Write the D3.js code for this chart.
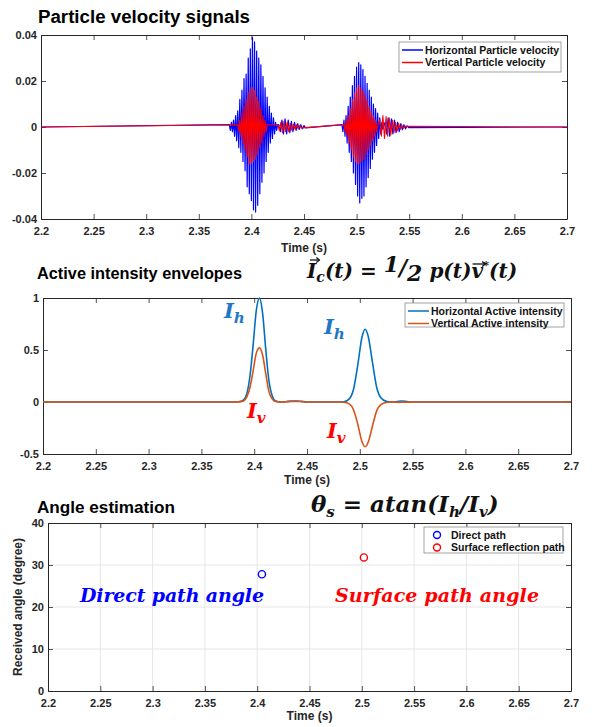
<!DOCTYPE html>
<html><head><meta charset="utf-8">
<script src="https://cdn.jsdelivr.net/npm/d3@7"></script>
<style>html,body{margin:0;padding:0;background:#fff}svg{display:block}</style>
</head><body>
<svg id="c" width="595" height="727"></svg>
<script>
// ---------------- DATA ----------------
const xTicks = [2.2,2.25,2.3,2.35,2.4,2.45,2.5,2.55,2.6,2.65,2.7];
const xTickLabels = ["2.2","2.25","2.3","2.35","2.4","2.45","2.5","2.55","2.6","2.65","2.7"];

// Panel 1: particle velocity (extrema)
const velStep = 0.001;
const hBurst1Start = 2.379;
const hBurst1 = [0.001,-0.0015,0.002,-0.002,0.003,-0.004,0.005,-0.006,0.007,-0.009,0.012,-0.011,0.016,-0.015,0.021,-0.019,0.023,-0.026,0.030,-0.029,0.034,-0.032,0.039,-0.036,0.037,-0.037,0.033,-0.034,0.030,-0.029,0.027,-0.024,0.022,-0.020,0.017,-0.015,0.013,-0.011,0.009,-0.007,0.006,-0.005,0.004,-0.003,0.002,-0.0015,0.001];
const vBurst1Start = 2.387;
const vBurst1 = [0.001,-0.002,0.003,-0.004,0.006,-0.007,0.009,-0.010,0.012,-0.013,0.015,-0.016,0.017,-0.016,0.017,-0.015,0.016,-0.014,0.013,-0.012,0.011,-0.009,0.008,-0.007,0.005,-0.004,0.003,-0.002,0.001];
const waveStep = 0.0015;
const hWave1Start = 2.426;
const hWave1 = [0.001,-0.002,0.003,-0.003,0.0035,-0.003,0.003,-0.0025,0.0025,-0.002,0.002,-0.0015,0.0015,-0.001,0.001,-0.0008,0.0006,-0.0004];
const vWave1Start = 2.425;
const vWave1 = [0.001,-0.0015,0.002,-0.0025,0.0025,-0.002,0.002,-0.002,0.0015,-0.0015,0.0012,-0.001,0.001,-0.0008,0.0006,-0.0004];
const hBurst2Start = 2.486;
const hBurst2 = [0.001,-0.002,0.003,-0.004,0.005,-0.007,0.009,-0.011,0.013,-0.015,0.018,-0.020,0.022,-0.025,0.026,-0.030,0.028,-0.033,0.027,-0.031,0.025,-0.030,0.022,-0.026,0.019,-0.022,0.016,-0.018,0.013,-0.014,0.010,-0.011,0.008,-0.008,0.006,-0.005,0.004,-0.003,0.002,-0.001];
const vBurst2Start = 2.488;
const vBurst2 = [0.001,-0.002,0.003,-0.004,0.005,-0.007,0.008,-0.010,0.012,-0.013,0.015,-0.015,0.017,-0.016,0.018,-0.016,0.017,-0.015,0.016,-0.014,0.014,-0.012,0.012,-0.010,0.009,-0.008,0.007,-0.006,0.005,-0.004,0.003,-0.002,0.001];
const hWave2Start = 2.527;
const hWave2 = [0.002,-0.003,0.004,-0.004,0.0035,-0.003,0.003,-0.0025,0.002,-0.002,0.0015,-0.0012,0.001,-0.0008,0.0005,-0.0003];
const vWave2Start = 2.522;
const vWave2 = [0.003,-0.004,0.005,-0.005,0.0045,-0.004,0.004,-0.0035,0.003,-0.0025,0.002,-0.0018,0.0015,-0.001,0.0008,-0.0005,0.0003];

// Panel 2: active intensity envelopes
const intTimes = [2.2,2.38,2.385,2.39,2.393,2.396,2.399,2.402,2.405,2.408,2.411,2.414,2.417,2.42,2.425,2.43,2.435,2.44,2.445,2.45,2.48,2.485,2.49,2.494,2.498,2.502,2.505,2.508,2.512,2.516,2.52,2.525,2.53,2.535,2.54,2.545,2.55,2.7];
const intH = [0,0,0.002,0.02,0.08,0.25,0.55,0.88,1.0,0.85,0.5,0.2,0.06,0.012,0,0.003,0.009,0.01,0.006,0,0,0.003,0.03,0.12,0.35,0.62,0.70,0.63,0.38,0.14,0.04,0.006,0,0.004,0.01,0.004,0,0];
const intV = [0,0,0.001,0.01,0.05,0.14,0.30,0.47,0.52,0.45,0.27,0.10,0.03,0.006,0,0.002,0.005,0.006,0.003,0,0,-0.002,-0.018,-0.075,-0.21,-0.38,-0.43,-0.385,-0.23,-0.085,-0.025,-0.004,0,-0.001,-0.003,-0.001,0,0];

// Panel 3: angle estimation
const angleNames = ["Direct path","Surface reflection path"];
const angleTimes = [2.4045,2.502];
const angleValues = [27.8,31.8];
const angleColors = ["#0000ff","#ff0000"];

// ---------------- DRAW ----------------
const svg = d3.select("#c");
const FONT = "'Liberation Sans', Arial, sans-serif";
const SERIF = "'DejaVu Serif', 'Liberation Serif', serif";
const AX = "#262626";

function panel(o){
  const x = d3.scaleLinear().domain([2.2,2.7]).range([o.l,o.r]);
  const y = d3.scaleLinear().domain(o.yd).range([o.b,o.t]);
  const g = svg.append("g");
  if(o.grid){
    g.append("g").selectAll("line").data(xTicks.slice(1,-1)).join("line")
      .attr("x1",d=>x(d)).attr("x2",d=>x(d)).attr("y1",o.t).attr("y2",o.b)
      .attr("stroke","#e6e6e6").attr("stroke-width",1);
    g.append("g").selectAll("line").data(o.yt.slice(1,-1)).join("line")
      .attr("y1",d=>y(d)).attr("y2",d=>y(d)).attr("x1",o.l).attr("x2",o.r)
      .attr("stroke","#e6e6e6").attr("stroke-width",1);
  }
  const xa = d3.axisBottom(x).tickValues(xTicks).tickFormat((d,i)=>xTickLabels[i]).tickSizeInner(-5).tickSizeOuter(0).tickPadding(8);
  const gx = g.append("g").attr("transform",`translate(0,${o.b})`).call(xa);
  const xt = d3.axisTop(x).tickValues(xTicks).tickFormat("").tickSizeInner(-5).tickSizeOuter(0);
  const gxt = g.append("g").attr("transform",`translate(0,${o.t})`).call(xt);
  const ya = d3.axisLeft(y).tickValues(o.yt).tickFormat((d,i)=>o.ytl[i]).tickSizeInner(-5).tickSizeOuter(0).tickPadding(4);
  const gy = g.append("g").attr("transform",`translate(${o.l},0)`).call(ya);
  const yr = d3.axisRight(y).tickValues(o.yt).tickFormat("").tickSizeInner(-5).tickSizeOuter(0);
  const gyr = g.append("g").attr("transform",`translate(${o.r},0)`).call(yr);
  [gx,gxt,gy,gyr].forEach(a=>{
    a.select(".domain").attr("stroke",AX).attr("stroke-width",1);
    a.selectAll(".tick line").attr("stroke",AX).attr("stroke-width",0.8);
    a.selectAll("text").attr("font-family",FONT).attr("font-weight","bold").attr("font-size",11).attr("fill",AX);
  });
  svg.append("text").attr("x",(o.l+o.r)/2).attr("y",o.xly).attr("text-anchor","middle")
    .attr("font-family",FONT).attr("font-weight","bold").attr("font-size",12).attr("fill",AX).text("Time (s)");
  return {x,y,g};
}

function lineOf(pts,x,y,color,w,curve){
  const ln = d3.line().x(d=>x(d[0])).y(d=>y(d[1]));
  if(curve) ln.curve(curve);
  svg.append("path").datum(pts).attr("d",ln).attr("fill","none").attr("stroke",color).attr("stroke-width",w).attr("stroke-linejoin","round");
}
function seg(start,step,vals){ return vals.map((v,i)=>[start+i*step,v]); }

// ---- Panel 1
const p1 = panel({l:41,r:567,t:35,b:219,yd:[-0.04,0.04],yt:[-0.04,-0.02,0,0.02,0.04],ytl:["-0.04","-0.02","0","0.02","0.04"],xly:252});
const hPts = [[2.2,0]].concat(seg(hBurst1Start,velStep,hBurst1),seg(hWave1Start,waveStep,hWave1),seg(hBurst2Start,velStep,hBurst2),seg(hWave2Start,waveStep,hWave2),[[2.7,0]]);
const vPts = [[2.2,0]].concat(seg(vBurst1Start,velStep,vBurst1),seg(vWave1Start,waveStep,vWave1),seg(vBurst2Start,velStep,vBurst2),seg(vWave2Start,waveStep,vWave2),[[2.7,0]]);
lineOf(hPts,p1.x,p1.y,"#0000ff",1.2);
lineOf(vPts,p1.x,p1.y,"#ff0000",1.1);
svg.append("text").attr("x",38).attr("y",23).attr("font-family",FONT).attr("font-weight","bold").attr("font-size",18)
  .attr("textLength",212).attr("lengthAdjust","spacingAndGlyphs").text("Particle velocity signals");

function legend(lx,ly,w,h,items,kind){
  svg.append("rect").attr("x",lx).attr("y",ly).attr("width",w).attr("height",h).attr("fill","#fff").attr("stroke","#8c8c8c").attr("stroke-width",0.8);
  items.forEach((it,i)=>{
    const yy = ly+8+i*12.5;
    if(kind==="line") svg.append("line").attr("x1",lx+3).attr("x2",lx+24).attr("y1",yy).attr("y2",yy).attr("stroke",it.c).attr("stroke-width",1.5);
    else svg.append("circle").attr("cx",lx+13).attr("cy",yy).attr("r",3.5).attr("fill","none").attr("stroke",it.c).attr("stroke-width",1.4);
    svg.append("text").attr("x",lx+(kind==="line"?26:27)).attr("y",yy+3.5).attr("font-family",FONT).attr("font-weight","bold").attr("font-size",10.5).attr("fill","#111").text(it.t);
  });
}
legend(399,42,162,30,[{t:"Horizontal Particle velocity",c:"#0000ff"},{t:"Vertical Particle velocity",c:"#ff0000"}],"line");

// ---- Panel 2
const p2 = panel({l:43,r:571,t:298,b:454,yd:[-0.5,1],yt:[-0.5,0,0.5,1],ytl:["-0.5","0","0.5","1"],xly:484});
const hI = intTimes.map((t,i)=>[t,intH[i]]);
const vI = intTimes.map((t,i)=>[t,intV[i]]);
lineOf(hI,p2.x,p2.y,"#0072bd",1.6,d3.curveMonotoneX);
lineOf(vI,p2.x,p2.y,"#d95319",1.6,d3.curveMonotoneX);
svg.append("text").attr("x",37).attr("y",279).attr("font-family",FONT).attr("font-weight","bold").attr("font-size",17)
  .attr("textLength",205).attr("lengthAdjust","spacingAndGlyphs").text("Active intensity envelopes");
legend(405,303,159,24,[{t:"Horizontal Active intensity",c:"#0072bd"},{t:"Vertical Active intensity",c:"#d95319"}],"line");

function sym(x0,y0,main,sub,color,size){
  const t = svg.append("text").attr("x",x0).attr("y",y0).attr("font-family",SERIF).attr("font-style","italic").attr("font-weight","bold").attr("font-size",size).attr("fill",color);
  t.append("tspan").text(main);
  t.append("tspan").attr("font-size",size*0.72).attr("dy",size*0.22).text(sub);
}
sym(224,318,"I","h","#1f77c8",21);
sym(324,334,"I","h","#1f77c8",21);
sym(247,418,"I","v","#ff0000",21);
sym(327,438,"I","v","#ff0000",21);

(function(){
  const t = svg.append("text").attr("x",307).attr("y",278).attr("font-family",SERIF).attr("font-style","italic").attr("font-weight","bold").attr("font-size",20).attr("fill","#111");
  t.append("tspan").text("I");
  t.append("tspan").attr("font-size",14).attr("dy",4).text("c");
  t.append("tspan").attr("dy",-4).text("(t) = ");
  t.append("tspan").attr("font-size",22).attr("dy",-6).text("1");
  t.append("tspan").attr("font-size",22).attr("dy",3).text("/");
  t.append("tspan").attr("font-size",22).attr("dy",6).text("2");
  t.append("tspan").attr("dy",-3).text(" p(t)");
  t.append("tspan").text("v");
  t.append("tspan").attr("font-size",11).attr("dy",-9).text("*");
  t.append("tspan").attr("dy",9).text("(t)");
  const arrow = (x1,x2,yy)=>{
    svg.append("line").attr("x1",x1).attr("x2",x2).attr("y1",yy).attr("y2",yy).attr("stroke","#111").attr("stroke-width",1.3);
    svg.append("path").attr("d",`M${x2-3},${yy-2.5}L${x2},${yy}L${x2-3},${yy+2.5}`).attr("fill","none").attr("stroke","#111").attr("stroke-width",1.3);
  };
  const n = t.node();
  const bI = n.getExtentOfChar(0);
  arrow(bI.x+3,bI.x+bI.width+3,bI.y+1);
  const full = n.textContent; const vi = full.indexOf("v");
  const bv = n.getExtentOfChar(vi);
  arrow(bv.x+1,bv.x+bv.width+2,bv.y+5);
})();

// ---- Panel 3
const p3 = panel({l:48,r:571,t:523,b:691,yd:[0,40],yt:[0,10,20,30,40],ytl:["0","10","20","30","40"],xly:720,grid:true});
svg.append("g").selectAll("circle").data(angleTimes).join("circle")
  .attr("cx",d=>p3.x(d)).attr("cy",(d,i)=>p3.y(angleValues[i])).attr("r",3.6)
  .attr("fill","none").attr("stroke",(d,i)=>angleColors[i]).attr("stroke-width",1.4);
svg.append("text").attr("transform","translate(22,607) rotate(-90)").attr("text-anchor","middle")
  .attr("font-family",FONT).attr("font-weight","bold").attr("font-size",12).attr("fill",AX).text("Received angle (degree)");
svg.append("text").attr("x",37).attr("y",513).attr("font-family",FONT).attr("font-weight","bold").attr("font-size",17)
  .attr("textLength",138).attr("lengthAdjust","spacingAndGlyphs").text("Angle estimation");
legend(424,527,139,26,angleNames.map((n,i)=>({t:n,c:angleColors[i]})),"circle");

(function(){
  const t = svg.append("text").attr("x",311).attr("y",512).attr("font-family",SERIF).attr("font-style","italic").attr("font-weight","bold").attr("font-size",23).attr("fill","#111");
  t.append("tspan").text("θ");
  t.append("tspan").attr("font-size",15).attr("dy",5).text("s");
  t.append("tspan").attr("dy",-5).text(" = atan(I");
  t.append("tspan").attr("font-size",15).attr("dy",5).text("h");
  t.append("tspan").attr("dy",-5).text("/I");
  t.append("tspan").attr("font-size",15).attr("dy",5).text("v");
  t.append("tspan").attr("dy",-5).text(")");
})();

svg.append("text").attr("x",80).attr("y",602).attr("font-family",SERIF).attr("font-style","italic").attr("font-weight","bold").attr("font-size",19)
  .attr("fill","#0000ff").attr("textLength",184).attr("lengthAdjust","spacing").text("Direct path angle");
svg.append("text").attr("x",335).attr("y",602).attr("font-family",SERIF).attr("font-style","italic").attr("font-weight","bold").attr("font-size",19)
  .attr("fill","#ff0000").attr("textLength",204).attr("lengthAdjust","spacing").text("Surface path angle");
</script>
</body></html>
